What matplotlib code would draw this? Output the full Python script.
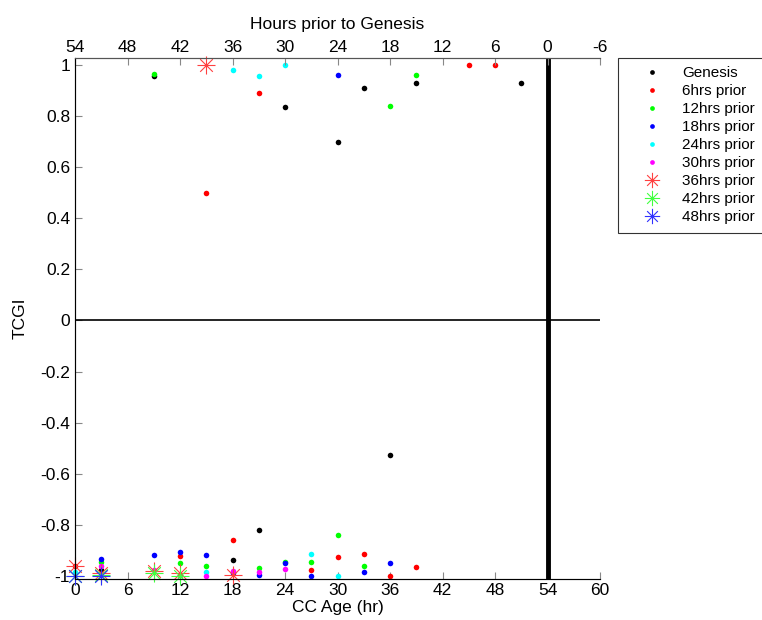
import matplotlib
matplotlib.use('Agg')
import matplotlib.pyplot as plt
import matplotlib.ticker as ticker
from matplotlib.path import Path

plt.rcParams['font.family'] = ['Liberation Sans', 'DejaVu Sans']
plt.rcParams['axes.unicode_minus'] = False

# CC age (hr) and TCGI for each lead time
gen_x = [9, 24, 30, 33, 39, 51, 36, 3, 12, 18, 21]
gen_y = [0.955, 0.835, 0.70, 0.91, 0.93, 0.93, -0.525, -0.978, -0.995, -0.938, -0.82]

h6_x = [15, 21, 45, 48, 0, 12, 18, 27, 30, 33, 36, 39]
h6_y = [0.5, 0.89, 1.0, 1.0, -0.96, -0.922, -0.861, -0.975, -0.926, -0.916, -1.0, -0.964]

h12_x = [9, 36, 39, 3, 12, 15, 21, 24, 27, 30, 33]
h12_y = [0.965, 0.84, 0.96, -0.945, -0.948, -0.962, -0.97, -0.945, -0.945, -0.841, -0.962]

h18_x = [30, 3, 9, 12, 15, 18, 21, 24, 27, 33, 36]
h18_y = [0.96, -0.935, -0.918, -0.907, -0.917, -0.99, -0.995, -0.951, -1.0, -0.984, -0.951]

h24_x = [18, 21, 24, 0, 15, 27, 30]
h24_y = [0.98, 0.955, 1.0, -0.985, -0.984, -0.916, -1.0]

h30_x = [3, 9, 15, 18, 21, 24]
h30_y = [-0.96, -0.975, -1.0, -0.98, -0.985, -0.973]

h36_x = [0, 3, 9, 12, 15, 18]
h36_y = [-0.96, -0.99, -0.98, -0.99, 1.0, -0.995]

h42_x = [0, 3, 9, 12]
h42_y = [-1.0, -0.995, -0.99, -1.0]

h48_x = [0, 3]
h48_y = [-1.0, -1.0]

top_ticks = [54, 48, 42, 36, 30, 24, 18, 12, 6, 0, -6]

# matlab style asterisk
star = Path([(-1, 0), (1, 0), (0, -1), (0, 1), (-0.7, -0.7), (0.7, 0.7), (-0.7, 0.7), (0.7, -0.7)],
            [Path.MOVETO, Path.LINETO] * 4)

fig = plt.figure(figsize=(7.62, 6.2), dpi=100)
ax = fig.add_axes([75/762, 41.5/620, 525/762, 520.5/620])

dot = dict(linestyle='none', marker='o', markersize=4, markeredgewidth=0, clip_on=False)
ax.plot(gen_x, gen_y, color='k', label='Genesis', **dot)
ax.plot(h6_x, h6_y, color='#ff0000', label='6hrs prior', **dot)
ax.plot(h12_x, h12_y, color='#00ff00', label='12hrs prior', **dot)
ax.plot(h18_x, h18_y, color='#0000ff', label='18hrs prior', **dot)
ax.plot(h24_x, h24_y, color='#00ffff', label='24hrs prior', **dot)
ax.plot(h30_x, h30_y, color='#ff00ff', label='30hrs prior', **dot)
st = dict(linestyle='none', marker=star, markersize=13, markeredgewidth=0.8, fillstyle='none', clip_on=False)
ax.plot(h36_x, h36_y, color='#ff4040', label='36hrs prior', **st)
ax.plot(h42_x, h42_y, color='#40ff40', label='42hrs prior', **st)
ax.plot(h48_x, h48_y, color='#3030ff', label='48hrs prior', **st)

ax.axhline(0, color='k', lw=1.2)
ax.axvline(54, color='k', lw=3.5)

ax.set_xlim(0, 60)
ax.set_ylim(-1.01, 1.027)
ax.xaxis.set_major_locator(ticker.MultipleLocator(6))
ax.yaxis.set_major_locator(ticker.MultipleLocator(0.2))
ax.yaxis.set_major_formatter(ticker.FuncFormatter(lambda v, _: f'{round(v, 1):g}'))
ax.tick_params(direction='in', labelsize=12.5, color='#888888', length=5)
ax.set_xlabel('CC Age (hr)', fontsize=12.5, labelpad=1)
ax.set_ylabel('TCGI', fontsize=12.5, labelpad=9)
ax.spines['right'].set_visible(False)
for s in ['left', 'bottom', 'top']:
    ax.spines[s].set_color('#555555')

ax2 = ax.twiny()
ax2.set_xlim(54, -6)
ax2.set_xticks(top_ticks)
ax2.tick_params(direction='in', labelsize=12.5, color='#888888', length=5, pad=2)
ax2.set_xlabel('Hours prior to Genesis', fontsize=12.5, labelpad=8)
ax2.spines['right'].set_visible(False)
ax2.spines['top'].set_color('#555555')

leg = fig.legend(handles=ax.get_lines()[:9], loc='upper left', bbox_to_anchor=(618/762, 1 - 58/620),
                 borderaxespad=0, fontsize=11, labelspacing=0.26, frameon=True, fancybox=False,
                 edgecolor='k', handlelength=3.3, handletextpad=0.35, borderpad=0.55,
                 markerscale=0.85)
leg.get_frame().set_linewidth(0.8)

fig.savefig('out.png', dpi=100)
